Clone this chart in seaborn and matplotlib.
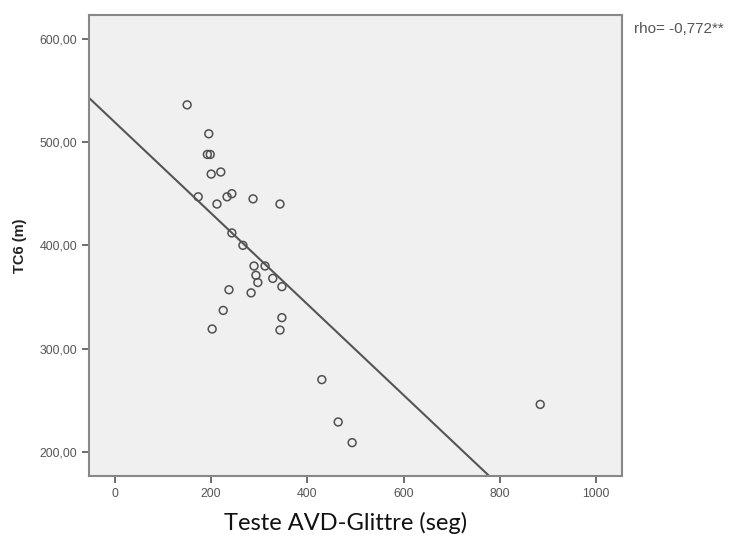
import matplotlib
matplotlib.use("Agg")
import matplotlib.pyplot as plt
import matplotlib.ticker as mticker
import seaborn as sns
import pandas as pd

# Data
glittre_seg = [150, 195, 192, 198, 200, 220, 173, 212, 233, 243, 287, 343,
               243, 266, 289, 312, 293, 297, 328, 347, 237, 283, 225, 347,
               202, 343, 430, 464, 493, 884]
tc6_m = [536, 508, 488, 488, 469, 471, 447, 440, 447, 450, 445, 440,
         412, 400, 380, 380, 371, 364, 368, 360, 357, 354, 337, 330,
         319, 318, 270, 229, 209, 246]
fit_intercept = 519.0
fit_slope = -0.44
x_ticks = [0, 200, 400, 600, 800, 1000]
y_ticks = [200, 300, 400, 500, 600]
rho_text = "rho= -0,772**"
x_label = "Teste AVD-Glittre (seg)"
y_label = "TC6 (m)"

df = pd.DataFrame({"x": glittre_seg, "y": tc6_m})

sns.set_style("white")
plt.rcParams['font.family'] = ['Liberation Sans', 'DejaVu Sans']

fig = plt.figure(figsize=(7.4, 5.35), dpi=100)
ax = fig.add_axes([89/740, 1-476/535, (622-89)/740, (476-15)/535])
ax.set_facecolor("#f0f0f0")

sns.scatterplot(data=df, x="x", y="y", ax=ax, marker="o", s=32,
                facecolors="none", edgecolor="#505050", linewidth=1.1, legend=False)
ax.axline((0, fit_intercept), slope=fit_slope, color="#555555", lw=1.5, zorder=1)

ax.set_xlim(-54, 1054)
ax.set_ylim(176.7, 623)
ax.set_xticks(x_ticks)
ax.set_yticks(y_ticks)
ax.yaxis.set_major_formatter(mticker.FuncFormatter(lambda v, p: f"{v:.2f}".replace(".", ",")))
ax.tick_params(axis="both", direction="out", length=5, width=1.2, color="#555555",
               labelsize=8.8, labelcolor="#555555", bottom=True, left=True)
for s in ax.spines.values():
    s.set_color("#888888")
    s.set_linewidth(1.5)

ax.set_xlabel("")
ax.set_ylabel("")
fig.text(346/740, 1-530/535, x_label, fontsize=17, family=['Lato', 'DejaVu Sans'],
         color="#111111", ha="center", va="baseline")
fig.text(20/740, 1-246/535, y_label, fontsize=10.5, fontweight="bold", color="#222222",
         rotation=90, ha="center", va="center")

fig.text(634/740, 1-29/535, rho_text, fontsize=11, color="#555555", va="center", ha="left")

fig.savefig("out.png", dpi=100)
